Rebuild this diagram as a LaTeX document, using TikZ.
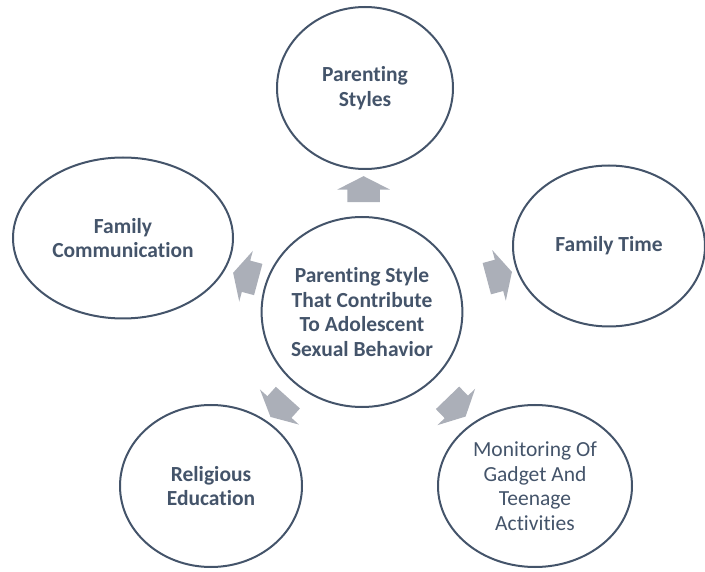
\documentclass[tikz,border=0pt]{standalone}
\usepackage{fontspec}
\setmainfont{Carlito}[Ligatures=NoCommon]
\usetikzlibrary{shapes.geometric, shapes.arrows, calc}
\definecolor{slate}{HTML}{44546A}
\definecolor{arrowgrey}{HTML}{ABAFB8}
\tikzset{
    bubble/.style = {ellipse, draw=slate, line width=2pt, text=slate, align=center, inner sep=0pt, font=\bfseries\fontsize{21.5}{24.5}\selectfont},
    plainbubble/.style = {bubble, font=\fontsize{21.5}{24.5}\selectfont},
    blockarrow/.style = {single arrow, fill=arrowgrey, draw=none, inner xsep=0pt, inner ysep=16pt, minimum height=26pt, single arrow head extend=10pt, single arrow tip angle=126}
}

\begin{document}
\begin{tikzpicture}[x=1pt, y=-1pt]
\useasboundingbox (0,0) rectangle (705,572);

% Hub and the five surrounding factors
\node (core) [bubble, minimum width=194pt, minimum height=190pt] at (362,312) {Parenting Style\\That Contribute\\To Adolescent\\Sexual Behavior};
\node (styles) [bubble, minimum width=176pt, minimum height=162pt] at (365,88) {Parenting\\Styles};
\node (comm) [bubble, minimum width=220pt, minimum height=161pt] at (123,238) {Family\\Communication};
\node (time) [bubble, minimum width=192pt, minimum height=161pt] at (609,246) {Family Time};
\node (religion) [bubble, minimum width=182pt, minimum height=162pt] at (211,486) {Religious\\Education};
\node (monitor) [plainbubble, minimum width=194pt, minimum height=162pt] at (535,486) {Monitoring Of\\Gadget And\\Teenage\\Activities};

% Block arrows pointing out from the hub
\foreach \target/\ang/\pos in {styles/90/0.53, time/15/0.54, monitor/-46/0.53, religion/228/0.53, comm/165/0.47}
    \node (arr-\target) [blockarrow, rotate=\ang] at ($(core)!\pos!(\target)$) {};

\end{tikzpicture}
\end{document}
